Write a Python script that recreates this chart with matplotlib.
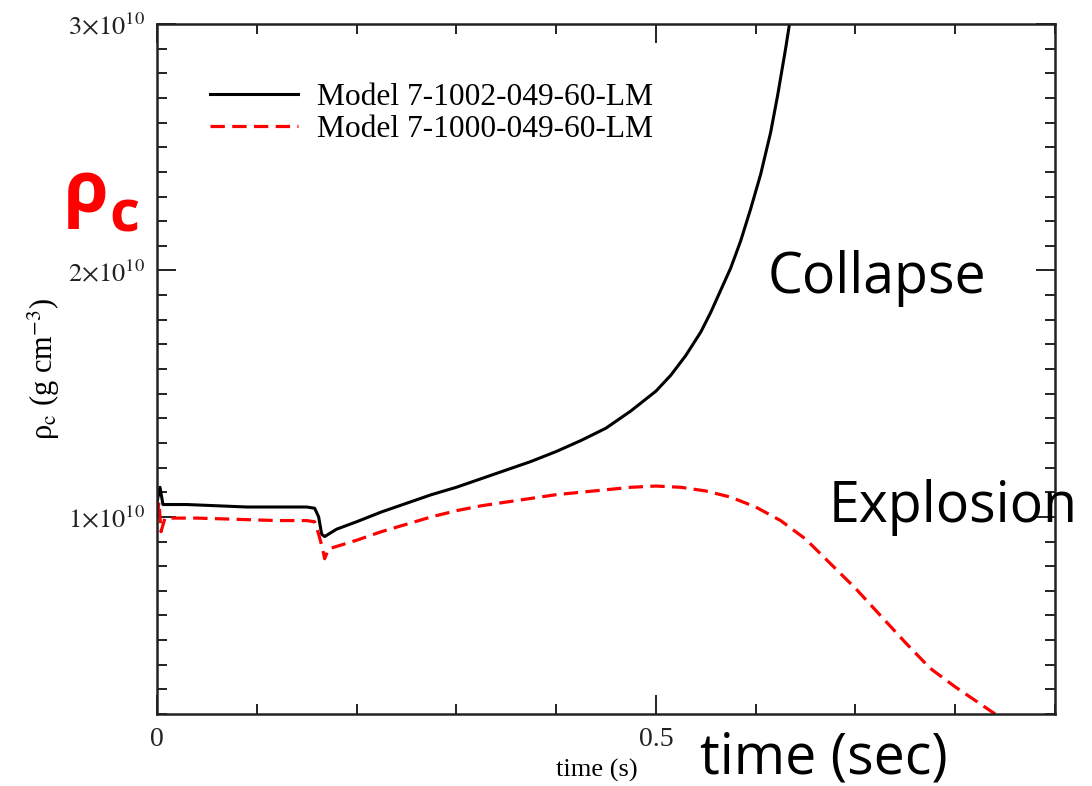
import numpy as np
import matplotlib
matplotlib.use("Agg")
import matplotlib.pyplot as plt
from matplotlib.ticker import MultipleLocator

plt.rcParams['font.family'] = 'serif'
plt.rcParams['font.serif'] = ['Liberation Serif', 'DejaVu Serif']
plt.rcParams['mathtext.fontset'] = 'stix'

# central density, in units of 1e10 g/cm^3
t_1002 = [0.0, 0.003, 0.006, 0.03, 0.06, 0.09, 0.12, 0.15, 0.158, 0.162, 0.165, 0.168,
          0.18, 0.2, 0.225, 0.25, 0.275, 0.3, 0.325, 0.35, 0.375, 0.4, 0.425, 0.45,
          0.475, 0.5, 0.515, 0.53, 0.545, 0.555, 0.565, 0.575, 0.585, 0.595, 0.605,
          0.615, 0.622, 0.63, 0.637, 0.645]
rho_1002 = [1.06, 1.12, 1.05, 1.05, 1.045, 1.04, 1.04, 1.04, 1.035, 1.0, 0.93, 0.92,
            0.95, 0.98, 1.02, 1.055, 1.09, 1.12, 1.155, 1.19, 1.225, 1.265, 1.31, 1.36,
            1.43, 1.51, 1.575, 1.655, 1.75, 1.83, 1.92, 2.01, 2.12, 2.25, 2.39,
            2.56, 2.71, 2.90, 3.08, 3.3]

t_1000 = [0.0, 0.002, 0.004, 0.008, 0.04, 0.08, 0.12, 0.15, 0.158, 0.162, 0.166, 0.168,
          0.172, 0.2, 0.225, 0.25, 0.275, 0.3, 0.325, 0.35, 0.375, 0.4, 0.425, 0.45,
          0.475, 0.5, 0.525, 0.55, 0.575, 0.6, 0.625, 0.65, 0.675, 0.7, 0.725, 0.75,
          0.775, 0.8, 0.82, 0.84]
rho_1000 = [1.0, 1.06, 0.94, 0.995, 0.995, 0.99, 0.985, 0.985, 0.98, 0.93, 0.87, 0.83,
            0.87, 0.905, 0.94, 0.97, 1.0, 1.025, 1.045, 1.06, 1.075, 1.09, 1.10, 1.11,
            1.12, 1.125, 1.12, 1.105, 1.08, 1.04, 0.985, 0.91, 0.81, 0.71, 0.6, 0.49,
            0.385, 0.31, 0.255, 0.2]

labels = ['Model 7-1002-049-60-LM', 'Model 7-1000-049-60-LM']
ytick_vals = [1, 2, 3]
ytick_text = [r'$1{\times}10^{10}$', r'$2{\times}10^{10}$', r'$3{\times}10^{10}$']

fig = plt.figure(figsize=(10.92, 7.86), dpi=100)
ax = fig.add_axes([157/1092, 72/786, 898/1092, 690/786])

ax.plot(t_1002, np.array(rho_1002)*1e10, color='black', lw=2.2, label=labels[0])
ax.plot(t_1000, np.array(rho_1000)*1e10, color='#ff0000', lw=2.3,
        linestyle=(0, (4.5, 2.3)), label=labels[1])

ax.set_xlim(0, 0.9)
ax.set_ylim(0.2e10, 3e10)
ax.xaxis.set_major_locator(MultipleLocator(0.5))
ax.xaxis.set_minor_locator(MultipleLocator(0.1))
ax.set_xticks([0, 0.5])
ax.set_xticklabels(['0', '0.5'])
ax.set_yticks([v*1e10 for v in ytick_vals])
ax.set_yticklabels(ytick_text)
ax.yaxis.set_minor_locator(MultipleLocator(1e9))

ax.tick_params(which='both', direction='in', top=True, right=True, width=1.4,
               colors='#222222', labelsize=19)
ax.tick_params(axis='y', pad=9)
ax.tick_params(axis='x', pad=9, labelsize=20)
ax.tick_params(which='major', length=14)
ax.tick_params(which='minor', length=7)
for s in ax.spines.values():
    s.set_linewidth(1.8)
    s.set_color('#222222')

ax.set_xlabel('time (s)', fontsize=19, labelpad=5, x=0.49)
ax.set_ylabel(r'ρ$_\mathrm{c}$ (g cm$^{-3}$)', fontsize=22)
ax.yaxis.set_label_coords(-0.106, 0.5)

leg = ax.legend(loc='upper left', bbox_to_anchor=(210/1092, 1 - 83/786),
                bbox_transform=fig.transFigure, frameon=False, fontsize=22.7,
                handlelength=2.8, handletextpad=0.6, labelspacing=0.1,
                borderpad=0, borderaxespad=0)

# slide annotations
fig.text(64/1092, 1 - 212/786, 'ρ', family='Open Sans', weight='bold',
         fontsize=52, color='#ff0000', va='baseline')
fig.text(109/1092, 1 - 232/786, 'c', family='Open Sans', weight='bold',
         fontsize=42, color='#ff0000', va='baseline')
fig.text(768/1092, 1 - 293/786, 'Collapse', family='Open Sans', fontsize=40,
         va='baseline')
fig.text(829/1092, 1 - 522/786, 'Explosion', family='Open Sans', fontsize=40,
         va='baseline')
fig.text(700/1092, 1 - 774/786, 'time (sec)', family='Open Sans', fontsize=40,
         va='baseline')

fig.savefig('out.png', dpi=100)
